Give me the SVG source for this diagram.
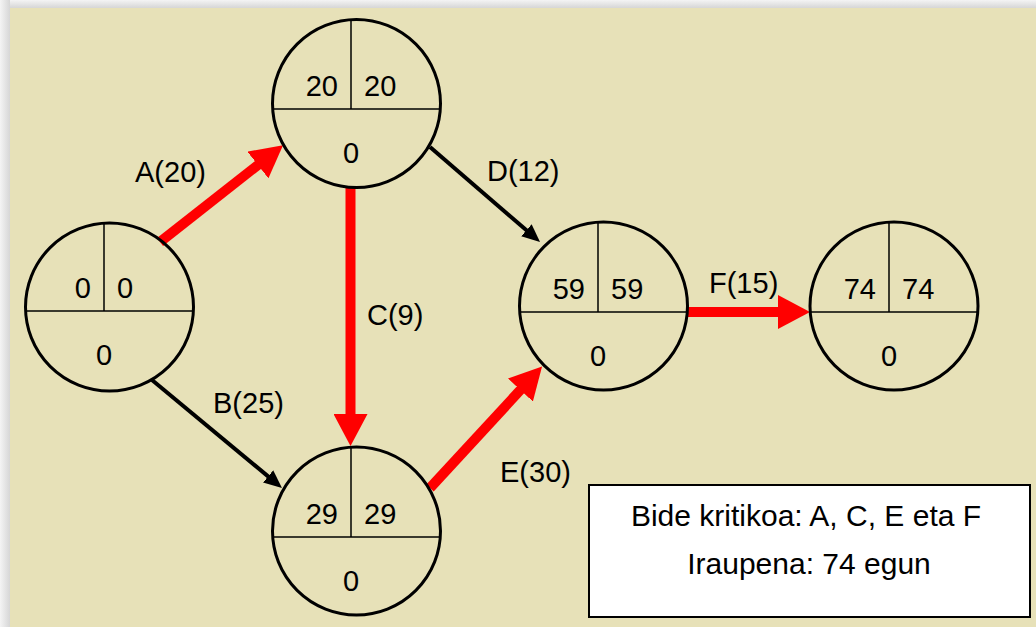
<svg xmlns="http://www.w3.org/2000/svg" width="1036" height="627" viewBox="0 0 1036 627">
<defs>
<linearGradient id="gTop" x1="0" y1="0" x2="0" y2="1"><stop offset="0" stop-color="#f4f4f4"/><stop offset="1" stop-color="#d6d6d6"/></linearGradient>
<linearGradient id="gLeft" x1="0" y1="0" x2="1" y2="0"><stop offset="0" stop-color="#f4f4f4"/><stop offset="1" stop-color="#d6d6d6"/></linearGradient>
<marker id="redHead" markerUnits="userSpaceOnUse" markerWidth="34" markerHeight="34" refX="12" refY="17" orient="auto"><path d="M0,0 L32,17 L0,34 z" fill="#ff0000"/></marker>
<marker id="blackHead" markerUnits="userSpaceOnUse" markerWidth="18" markerHeight="16" refX="7" refY="8" orient="auto"><path d="M0,0 L18,8 L0,16 z" fill="#000"/></marker>
</defs>
<style>
.ring{fill:none;stroke:#000;stroke-width:3}
.div{stroke:#000;stroke-width:1.5}
.t{font-family:"Liberation Sans",Arial,sans-serif;font-size:29px;fill:#000}
.b{font-size:30px}
.l{text-anchor:end}
.m{text-anchor:middle}
.red{stroke:#ff0000;stroke-width:10;fill:none}
.blk{stroke:#000;stroke-width:4;fill:none}
</style>
<rect x="0" y="0" width="1036" height="627" fill="#ffffff"/>
<rect x="0" y="0" width="1036" height="8" fill="url(#gTop)"/>
<rect x="0" y="0" width="10" height="627" fill="url(#gLeft)"/>
<rect x="10" y="8" width="1026" height="619" fill="#e7e1b8"/>

<g id="connectors">
<line class="red" x1="160" y1="242" x2="267.3" y2="157.6" marker-end="url(#redHead)"/>
<line class="red" x1="350.5" y1="188" x2="350.5" y2="426" marker-end="url(#redHead)"/>
<line class="red" x1="430" y1="488" x2="528.5" y2="381.2" marker-end="url(#redHead)"/>
<line class="red" x1="688" y1="312" x2="790" y2="312" marker-end="url(#redHead)"/>
<line class="blk" x1="430" y1="147" x2="531.7" y2="234.8" marker-end="url(#blackHead)"/>
<line class="blk" x1="152" y1="380" x2="273.5" y2="480.9" marker-end="url(#blackHead)"/>
<text class="t" x="135" y="182">A(20)</text>
<text class="t" x="487" y="181">D(12)</text>
<text class="t" x="367" y="325">C(9)</text>
<text class="t" x="213" y="413">B(25)</text>
<text class="t" x="500" y="482">E(30)</text>
<text class="t" x="709" y="293">F(15)</text>
</g>

<g id="node0">
<circle class="ring" cx="109.5" cy="307" r="84"/>
<line class="div" x1="25.5" y1="311" x2="193.5" y2="311"/>
<line class="div" x1="104" y1="223" x2="104" y2="311"/>
<text class="t l" x="91" y="298">0</text>
<text class="t" x="117" y="298">0</text>
<text class="t m" x="104" y="365">0</text>
</g>

<g id="node1">
<circle class="ring" cx="356.5" cy="103.5" r="84"/>
<line class="div" x1="272.5" y1="109" x2="440.5" y2="109"/>
<line class="div" x1="351" y1="19.5" x2="351" y2="109"/>
<text class="t l" x="338" y="96">20</text>
<text class="t" x="364" y="96">20</text>
<text class="t m" x="351" y="163">0</text>
</g>

<g id="node2">
<circle class="ring" cx="356.5" cy="531" r="84"/>
<line class="div" x1="272.5" y1="537" x2="440.5" y2="537"/>
<line class="div" x1="351" y1="447" x2="351" y2="537"/>
<text class="t l" x="338" y="524">29</text>
<text class="t" x="364" y="524">29</text>
<text class="t m" x="351" y="591">0</text>
</g>

<g id="node3">
<circle class="ring" cx="603.5" cy="306" r="84"/>
<line class="div" x1="519.5" y1="312" x2="687.5" y2="312"/>
<line class="div" x1="598" y1="222" x2="598" y2="312"/>
<text class="t l" x="585" y="299">59</text>
<text class="t" x="611" y="299">59</text>
<text class="t m" x="598" y="366">0</text>
</g>

<g id="node4">
<circle class="ring" cx="894" cy="306" r="84"/>
<line class="div" x1="810" y1="312" x2="978" y2="312"/>
<line class="div" x1="889" y1="222" x2="889" y2="312"/>
<text class="t l" x="876" y="299">74</text>
<text class="t" x="902" y="299">74</text>
<text class="t m" x="889" y="366">0</text>
</g>

<g id="summary">
<rect x="589" y="485" width="441" height="132" fill="#ffffff" stroke="#000" stroke-width="2"/>
<text class="t b m" x="806" y="526">Bide kritikoa: A, C, E eta F</text>
<text class="t b m" x="809" y="574">Iraupena: 74 egun</text>
</g>
</svg>
